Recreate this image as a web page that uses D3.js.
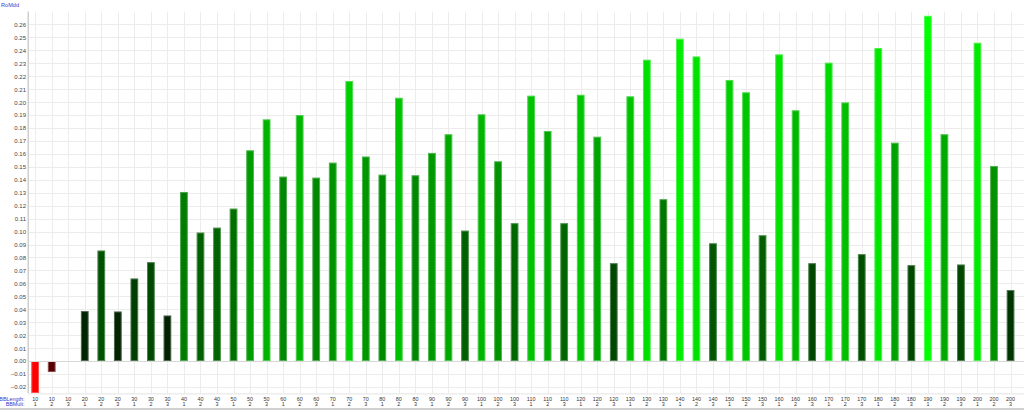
<!DOCTYPE html>
<html>
<head>
<meta charset="utf-8">
<script src="https://cdn.jsdelivr.net/npm/d3@7"></script>
<style>
  html, body { margin: 0; padding: 0; background: #fff; }
  svg { display: block; font-family: "Liberation Sans", Arial, sans-serif; }
</style>
</head>
<body>
<svg id="chart" width="1024" height="410"></svg>
<script>
const bbLength = [10,10,10,20,20,20,30,30,30,40,40,40,50,50,50,60,60,60,70,70,70,80,80,80,90,90,90,100,100,100,110,110,110,120,120,120,130,130,130,140,140,140,150,150,150,160,160,160,170,170,170,180,180,180,190,190,190,200,200,200];
const bbMult = [1,2,3,1,2,3,1,2,3,1,2,3,1,2,3,1,2,3,1,2,3,1,2,3,1,2,3,1,2,3,1,2,3,1,2,3,1,2,3,1,2,3,1,2,3,1,2,3,1,2,3,1,2,3,1,2,3,1,2,3];
const roMdd = [
  -0.0247, -0.0085, 0,
  0.0386, 0.0854, 0.0383,
  0.0638, 0.0764, 0.0352,
  0.1306, 0.0993, 0.1031,
  0.1178, 0.1628, 0.1867,
  0.1425, 0.1900, 0.1417,
  0.1533, 0.2163, 0.1580,
  0.1440, 0.2034, 0.1435,
  0.1608, 0.1752, 0.1008,
  0.1906, 0.1543, 0.1065,
  0.2050, 0.1777, 0.1065,
  0.2057, 0.1733, 0.0756,
  0.2045, 0.2328, 0.1250,
  0.2490, 0.2353, 0.0910,
  0.2171, 0.2076, 0.0972,
  0.2369, 0.1937, 0.0756,
  0.2305, 0.1998, 0.0826,
  0.2418, 0.1687, 0.0741,
  0.2667, 0.1752, 0.0746,
  0.2459, 0.1507, 0.0548
];
const yTicks = d3.range(-2, 27).map(d => d / 100);

(function () {
const svg = d3.select("#chart");
const W = 1024;
const left = 29, plotTop = 11.5, plotBottom = 393.4;

const idx = roMdd.map((d, i) => i);
const x = d3.scaleBand().domain(idx).range([26.9, 1018.8]).paddingInner(0.53).paddingOuter(0.265);
const y = d3.scaleLinear().domain([-0.025, 0.27]).range([plotBottom, plotTop]);

const maxV = d3.max(roMdd), minV = d3.min(roMdd);
function colorOf(v) {
  if (v >= 0) return d3.rgb(0, Math.round(v / maxV * 255), 0);
  return d3.rgb(Math.round(v / minV * 255), 0, 0);
}

// grid
const grid = svg.append("g");
grid.selectAll("line.h").data(yTicks).join("line")
  .attr("x1", left).attr("x2", W)
  .attr("y1", d => Math.round(y(d)) + 0.5).attr("y2", d => Math.round(y(d)) + 0.5)
  .attr("stroke", "#ececec").attr("stroke-width", 1);
grid.selectAll("line.v").data(idx).join("line")
  .attr("x1", i => Math.round(x(i) + x.bandwidth() / 2) + 0.5)
  .attr("x2", i => Math.round(x(i) + x.bandwidth() / 2) + 0.5)
  .attr("y1", plotTop).attr("y2", plotBottom)
  .attr("stroke", "#ececec").attr("stroke-width", 1);

// plot bottom line
svg.append("line").attr("x1", left).attr("x2", W).attr("y1", plotBottom + 0.5).attr("y2", plotBottom + 0.5)
  .attr("stroke", "#e4e4e4");

// bars
svg.append("g").selectAll("rect").data(idx.filter(i => roMdd[i] !== 0)).join("rect")
  .attr("x", i => x(i) + 0.5)
  .attr("width", x.bandwidth() - 1)
  .attr("y", i => Math.min(y(roMdd[i]), y(0)) + 0.5)
  .attr("height", i => Math.max(0, Math.abs(y(roMdd[i]) - y(0)) - 1))
  .attr("fill", i => colorOf(roMdd[i]))
  .attr("stroke", i => d3.interpolateRgb(colorOf(roMdd[i]), "#ffffff")(0.3))
  .attr("stroke-width", 1);

// zero line
svg.append("line").attr("x1", left).attr("x2", W).attr("y1", Math.round(y(0)) + 0.5).attr("y2", Math.round(y(0)) + 0.5)
  .attr("stroke", "#d8d8d8");

// y axis line
svg.append("rect").attr("x", 27.5).attr("y", plotTop).attr("width", 1.5).attr("height", plotBottom - plotTop)
  .attr("fill", "#cfcfcf");

// y axis labels via d3 axis
const yAxis = d3.axisLeft(y).tickValues(yTicks).tickFormat(d3.format(".2f")).tickSize(0).tickPadding(1);
const ya = svg.append("g").attr("transform", "translate(27,0)").call(yAxis);
ya.select(".domain").remove();
ya.selectAll("text").attr("fill", "#444").attr("font-size", "6px")
  .attr("font-family", "'Liberation Sans', Arial, sans-serif");

// title
svg.append("text").attr("x", 1).attr("y", 7).attr("fill", "#3a3ad0").attr("font-size", "5.6px").text("RoMdd");

// x labels
const xl = svg.append("g").attr("font-size", "5.4px").attr("text-anchor", "middle").attr("fill", "#333");
xl.selectAll("text.l").data(idx).join("text").attr("class", "l")
  .attr("x", i => x(i) + x.bandwidth() / 2).attr("y", 400.7).text(i => bbLength[i]);
xl.selectAll("text.m").data(idx).join("text").attr("class", "m")
  .attr("x", i => x(i) + x.bandwidth() / 2).attr("y", 406.2).text(i => bbMult[i]);
svg.append("text").attr("x", 24.5).attr("y", 400.7).attr("text-anchor", "end").attr("fill", "#3a3ad0")
  .attr("font-size", "5.4px").text("BBLength:");
svg.append("text").attr("x", 24.5).attr("y", 406.2).attr("text-anchor", "end").attr("fill", "#3a3ad0")
  .attr("font-size", "5.4px").text("BBMult:");

// bottom border
svg.append("rect").attr("x", 0).attr("y", 408).attr("width", W).attr("height", 2).attr("fill", "#d0d0d0");
})();
</script>
</body>
</html>
